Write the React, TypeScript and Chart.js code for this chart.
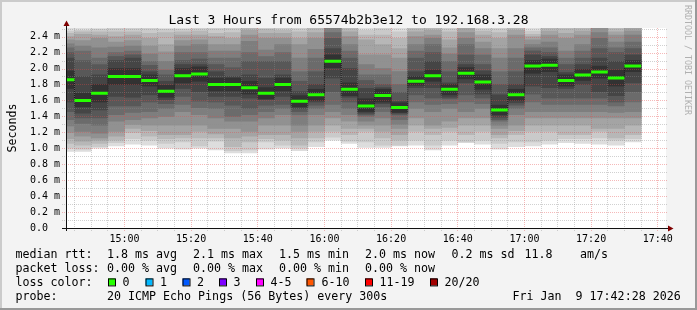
import React, { useEffect, useRef } from 'react';
import { Chart, registerables } from 'chart.js';

Chart.register(...registerables);

const W = 697;
const H = 310;
const MONO = '"DejaVu Sans Mono", monospace';

// ---------- data ----------
const VIEW_START = '14:42:28';
const VIEW_END = '17:42:28';
const SLOT_MINUTES = 5;
const Y_MAX = 2.508; // ms

const SLOT_START = [
  '14:40', '14:45', '14:50', '14:55', '15:00', '15:05', '15:10', '15:15', '15:20', '15:25',
  '15:30', '15:35', '15:40', '15:45', '15:50', '15:55', '16:00', '16:05', '16:10', '16:15',
  '16:20', '16:25', '16:30', '16:35', '16:40', '16:45', '16:50', '16:55', '17:00', '17:05',
  '17:10', '17:15', '17:20', '17:25', '17:30',
];

// median RTT per 5 minute slot (ms)
const MEDIAN_RTT = [
  1.86, 1.60, 1.69, 1.90, 1.90, 1.85, 1.715, 1.91, 1.93, 1.80,
  1.80, 1.76, 1.69, 1.80, 1.59, 1.67, 2.09, 1.74, 1.53, 1.66,
  1.51, 1.84, 1.91, 1.74, 1.94, 1.83, 1.48, 1.67, 2.03, 2.04,
  1.85, 1.92, 1.955, 1.88, 2.03,
];

// 20 sorted ping RTTs per slot (ms) -> smoke
const SORTED_PINGS = [
  [0.96, 1.00, 1.06, 1.12, 1.20, 1.28, 1.36, 1.46, 1.58, 1.75, 1.97, 2.13, 2.20, 2.26, 2.31, 2.36, 2.40, 2.44, 2.47, 2.60],
  [0.96, 0.99, 1.04, 1.09, 1.15, 1.21, 1.31, 1.38, 1.44, 1.52, 1.69, 1.90, 2.10, 2.22, 2.28, 2.35, 2.43, 2.46, 2.48, 2.60],
  [1.00, 1.02, 1.06, 1.10, 1.13, 1.19, 1.29, 1.38, 1.48, 1.58, 1.80, 1.92, 2.05, 2.13, 2.26, 2.38, 2.42, 2.46, 2.49, 2.60],
  [1.03, 1.07, 1.10, 1.15, 1.21, 1.34, 1.42, 1.53, 1.65, 1.80, 2.00, 2.10, 2.15, 2.20, 2.27, 2.33, 2.40, 2.46, 2.50, 2.60],
  [1.05, 1.12, 1.20, 1.25, 1.30, 1.36, 1.45, 1.53, 1.64, 1.80, 2.00, 2.13, 2.17, 2.22, 2.28, 2.35, 2.42, 2.46, 2.50, 2.60],
  [1.04, 1.10, 1.15, 1.22, 1.29, 1.38, 1.46, 1.58, 1.67, 1.78, 1.92, 1.96, 2.04, 2.09, 2.18, 2.28, 2.38, 2.44, 2.50, 2.60],
  [1.00, 1.06, 1.12, 1.17, 1.29, 1.40, 1.50, 1.56, 1.61, 1.64, 1.79, 1.84, 1.92, 1.98, 2.09, 2.21, 2.30, 2.45, 2.49, 2.56],
  [0.99, 1.08, 1.13, 1.17, 1.29, 1.46, 1.55, 1.65, 1.75, 1.82, 2.00, 2.05, 2.10, 2.20, 2.28, 2.35, 2.42, 2.46, 2.49, 2.60],
  [1.00, 1.03, 1.13, 1.21, 1.29, 1.42, 1.51, 1.59, 1.71, 1.84, 2.02, 2.05, 2.12, 2.20, 2.30, 2.36, 2.42, 2.47, 2.50, 2.60],
  [0.98, 1.09, 1.13, 1.18, 1.25, 1.38, 1.50, 1.58, 1.65, 1.72, 1.88, 1.96, 2.05, 2.13, 2.22, 2.30, 2.40, 2.44, 2.50, 2.55],
  [0.94, 0.97, 1.02, 1.13, 1.25, 1.34, 1.40, 1.54, 1.65, 1.72, 1.88, 1.90, 2.01, 2.13, 2.22, 2.30, 2.38, 2.45, 2.55, 2.70],
  [0.94, 0.98, 1.08, 1.15, 1.21, 1.34, 1.42, 1.50, 1.63, 1.68, 1.84, 1.92, 2.09, 2.20, 2.34, 2.42, 2.48, 2.52, 2.60, 2.70],
  [0.99, 1.08, 1.12, 1.17, 1.29, 1.38, 1.46, 1.54, 1.61, 1.62, 1.76, 1.88, 2.09, 2.15, 2.23, 2.38, 2.44, 2.49, 2.53, 2.65],
  [1.00, 1.04, 1.10, 1.17, 1.29, 1.42, 1.50, 1.55, 1.65, 1.72, 1.88, 1.92, 2.09, 2.20, 2.30, 2.38, 2.44, 2.48, 2.52, 2.65],
  [0.97, 1.00, 1.04, 1.13, 1.21, 1.29, 1.42, 1.46, 1.50, 1.52, 1.66, 1.71, 1.84, 1.96, 2.13, 2.30, 2.38, 2.46, 2.50, 2.56],
  [1.02, 1.08, 1.13, 1.21, 1.29, 1.42, 1.50, 1.54, 1.58, 1.60, 1.74, 1.80, 1.96, 2.13, 2.24, 2.38, 2.45, 2.52, 2.60, 2.70],
  [1.10, 1.14, 1.21, 1.29, 1.38, 1.46, 1.55, 1.71, 1.88, 2.01, 2.17, 2.25, 2.38, 2.45, 2.55, 2.60, 2.65, 2.70, 2.75, 2.80],
  [1.06, 1.09, 1.17, 1.25, 1.34, 1.42, 1.50, 1.58, 1.64, 1.66, 1.82, 2.00, 2.13, 2.22, 2.30, 2.40, 2.46, 2.52, 2.60, 2.70],
  [1.01, 1.08, 1.21, 1.25, 1.29, 1.34, 1.40, 1.42, 1.44, 1.46, 1.62, 1.75, 1.85, 1.92, 2.05, 2.17, 2.36, 2.42, 2.48, 2.55],
  [1.01, 1.04, 1.13, 1.21, 1.29, 1.38, 1.46, 1.52, 1.56, 1.58, 1.74, 1.76, 1.80, 1.92, 2.00, 2.17, 2.30, 2.42, 2.50, 2.53],
  [1.03, 1.04, 1.10, 1.17, 1.25, 1.30, 1.36, 1.42, 1.44, 1.45, 1.57, 1.59, 1.70, 1.80, 1.96, 2.13, 2.25, 2.38, 2.46, 2.55],
  [1.04, 1.10, 1.21, 1.29, 1.38, 1.50, 1.58, 1.67, 1.76, 1.79, 1.90, 1.96, 2.13, 2.22, 2.30, 2.40, 2.46, 2.50, 2.56, 2.65],
  [0.98, 1.04, 1.17, 1.25, 1.29, 1.46, 1.55, 1.63, 1.76, 1.84, 1.98, 2.09, 2.20, 2.30, 2.38, 2.42, 2.48, 2.55, 2.62, 2.70],
  [1.04, 1.10, 1.21, 1.26, 1.34, 1.50, 1.56, 1.62, 1.64, 1.67, 1.80, 1.82, 1.96, 2.09, 2.18, 2.26, 2.36, 2.46, 2.50, 2.55],
  [1.07, 1.08, 1.17, 1.29, 1.38, 1.46, 1.58, 1.67, 1.82, 1.87, 2.01, 2.05, 2.17, 2.30, 2.38, 2.45, 2.52, 2.60, 2.70, 2.80],
  [1.05, 1.10, 1.21, 1.29, 1.38, 1.50, 1.56, 1.63, 1.68, 1.74, 1.92, 1.97, 2.05, 2.17, 2.25, 2.33, 2.42, 2.47, 2.50, 2.56],
  [0.99, 1.06, 1.13, 1.17, 1.25, 1.29, 1.34, 1.36, 1.39, 1.42, 1.54, 1.67, 1.80, 1.96, 2.13, 2.25, 2.38, 2.45, 2.50, 2.58],
  [1.02, 1.08, 1.17, 1.22, 1.29, 1.42, 1.50, 1.54, 1.57, 1.60, 1.74, 1.80, 1.96, 2.13, 2.25, 2.42, 2.48, 2.55, 2.62, 2.70],
  [1.03, 1.08, 1.21, 1.29, 1.38, 1.46, 1.58, 1.68, 1.78, 1.94, 2.10, 2.17, 2.22, 2.26, 2.30, 2.36, 2.40, 2.43, 2.47, 2.52],
  [1.05, 1.10, 1.21, 1.29, 1.38, 1.46, 1.55, 1.63, 1.76, 1.96, 2.12, 2.15, 2.20, 2.26, 2.33, 2.42, 2.47, 2.52, 2.58, 2.65],
  [1.07, 1.12, 1.17, 1.29, 1.38, 1.46, 1.55, 1.63, 1.75, 1.78, 1.92, 1.95, 2.05, 2.13, 2.22, 2.38, 2.44, 2.50, 2.56, 2.62],
  [1.06, 1.12, 1.17, 1.29, 1.38, 1.46, 1.55, 1.63, 1.80, 1.85, 1.99, 2.05, 2.13, 2.22, 2.30, 2.42, 2.47, 2.53, 2.60, 2.68],
  [1.05, 1.13, 1.21, 1.25, 1.38, 1.46, 1.55, 1.63, 1.71, 1.88, 2.03, 2.13, 2.25, 2.38, 2.45, 2.52, 2.58, 2.64, 2.70, 2.80],
  [1.04, 1.10, 1.13, 1.25, 1.38, 1.45, 1.53, 1.58, 1.66, 1.78, 1.98, 2.09, 2.20, 2.26, 2.33, 2.42, 2.46, 2.50, 2.55, 2.60],
  [1.08, 1.12, 1.17, 1.29, 1.38, 1.46, 1.58, 1.71, 1.82, 1.96, 2.10, 2.17, 2.25, 2.33, 2.42, 2.47, 2.52, 2.58, 2.64, 2.70],
];

const X_TICK_LABELS = ['15:00', '15:20', '15:40', '16:00', '16:20', '16:40', '17:00', '17:20', '17:40'];
const Y_TICKS = [0, 0.2, 0.4, 0.6, 0.8, 1.0, 1.2, 1.4, 1.6, 1.8, 2.0, 2.2, 2.4];

const TITLE = 'Last 3 Hours from 65574b2b3e12 to 192.168.3.28';
const Y_TITLE = 'Seconds';
const WATERMARK = 'RRDTOOL / TOBI OETIKER';
const RTT_ITEMS = ['1.8 ms avg', '2.1 ms max', '1.5 ms min', '2.0 ms now', '0.2 ms sd', '11.8', 'am/s'];
const LOSS_ITEMS = ['0.00 % avg', '0.00 % max', '0.00 % min', '0.00 % now'];
const LOSS_COLOR_LABELS = ['0', '1', '2', '3', '4-5', '6-10', '11-19', '20/20'];
const LOSS_COLORS = ['#26ff00', '#00b8ff', '#0059ff', '#7e00ff', '#ff00ff', '#ff5500', '#ff0000', '#a10000'];
const PROBE_TEXT = '20 ICMP Echo Pings (56 Bytes) every 300s';
const DATE_TEXT = 'Fri Jan  9 17:42:28 2026';

// ---------- styles ----------
const SMOKE_COLORS = ['#dddddd', '#cacaca', '#b7b7b7', '#a4a4a4', '#919191', '#7e7e7e', '#6b6b6b', '#585858', '#454545', '#323232'];
const RTT_X = [107, 193, 279, 365, 451.5, 524.5, 580];
const LOSS_X = [107, 193, 279, 365];
const SQUARE_X = [108, 145.5, 182.5, 219, 256, 306.5, 365, 430];
const SQUARE_LABEL_X = [122.5, 160, 197, 233.5, 270.5, 321.5, 379.5, 444.5];
const LEGEND_Y = [257.5, 271.7, 285.9, 300];

const toMin = (s: string) => {
  const p = s.split(':').map(Number);
  return p[0] * 60 + p[1] + (p[2] || 0) / 60;
};

const rrdPlugin = {
  id: 'rrd',
  beforeDraw(chart: any) {
    const { ctx, chartArea: a } = chart;
    ctx.save();
    ctx.fillStyle = '#f3f3f3';
    ctx.fillRect(0, 0, W, H);
    ctx.fillStyle = '#cbcbcb';
    ctx.fillRect(0, 0, W, 2);
    ctx.fillRect(0, 0, 2, H);
    ctx.fillStyle = '#999999';
    ctx.fillRect(0, H - 2, W, 2);
    ctx.fillRect(W - 2, 0, 2, H);
    ctx.fillStyle = '#ffffff';
    ctx.fillRect(a.left, a.top, a.right - a.left, a.bottom - a.top);
    ctx.restore();
  },
  afterDatasetDraw(chart: any, args: any) {
    if (args.index !== SMOKE_COLORS.length - 1) return;
    const { ctx, chartArea: a } = chart;
    const xs = chart.scales.x;
    const ys = chart.scales.y;
    ctx.save();
    ctx.lineWidth = 1;
    ctx.setLineDash([1, 1]);
    const minorC = 'rgba(140,140,140,0.4)';
    const majorC = 'rgba(230,70,70,0.38)';
    // horizontal
    for (let i = 1; i * 0.1 <= Y_MAX + 1e-9; i++) {
      const v = i * 0.1;
      const y = Math.round(ys.getPixelForValue(v)) + 0.5;
      ctx.strokeStyle = i % 2 === 0 ? majorC : minorC;
      ctx.beginPath();
      ctx.moveTo(a.left - 4, y);
      ctx.lineTo(a.right + 2, y);
      ctx.stroke();
    }
    // vertical
    const first = Math.ceil(xs.min / SLOT_MINUTES) * SLOT_MINUTES;
    for (let t = first; t <= xs.max; t += SLOT_MINUTES) {
      const x = Math.floor(xs.getPixelForValue(t)) + 0.5;
      ctx.strokeStyle = t % 20 === 0 ? majorC : minorC;
      ctx.beginPath();
      ctx.moveTo(x, a.top);
      ctx.lineTo(x, a.bottom + 3);
      ctx.stroke();
    }
    ctx.restore();
  },
  afterDatasetsDraw(chart: any) {
    const { ctx, chartArea: a } = chart;
    ctx.save();
    ctx.strokeStyle = '#111111';
    ctx.lineWidth = 1;
    const yb = a.bottom + 0.5;
    const xl = a.left + 0.5;
    ctx.beginPath();
    ctx.moveTo(a.left - 4, yb);
    ctx.lineTo(a.right + 2, yb);
    ctx.moveTo(xl, a.bottom + 3);
    ctx.lineTo(xl, a.top - 2);
    ctx.stroke();
    ctx.fillStyle = '#7f0000';
    ctx.beginPath();
    ctx.moveTo(xl - 3, a.top - 2);
    ctx.lineTo(xl + 3, a.top - 2);
    ctx.lineTo(xl, a.top - 7.5);
    ctx.closePath();
    ctx.fill();
    ctx.beginPath();
    ctx.moveTo(a.right + 2, yb - 3);
    ctx.lineTo(a.right + 2, yb + 3);
    ctx.lineTo(a.right + 7.5, yb);
    ctx.closePath();
    ctx.fill();
    ctx.restore();
  },
  afterDraw(chart: any) {
    const { ctx, chartArea: a } = chart;
    ctx.save();
    ctx.fillStyle = '#000';
    ctx.textBaseline = 'alphabetic';
    // title
    ctx.font = `13px ${MONO}`;
    ctx.textAlign = 'center';
    ctx.fillText(TITLE, W / 2, 24);
    // y title
    ctx.font = `11.65px ${MONO}`;
    ctx.save();
    ctx.translate(15.5, (a.top + a.bottom) / 2);
    ctx.rotate(-Math.PI / 2);
    ctx.fillText(Y_TITLE, 0, 0);
    ctx.restore();
    // watermark
    ctx.save();
    ctx.font = `8.3px ${MONO}`;
    ctx.fillStyle = '#b0b0b0';
    ctx.textAlign = 'left';
    ctx.translate(685, 5);
    ctx.rotate(Math.PI / 2);
    ctx.fillText(WATERMARK, 0, 0);
    ctx.restore();
    // legend
    ctx.textAlign = 'left';
    ctx.font = `11.65px ${MONO}`;
    ctx.fillStyle = '#000';
    ctx.fillText('median rtt:', 15.5, LEGEND_Y[0]);
    RTT_ITEMS.forEach((t, i) => ctx.fillText(t, RTT_X[i], LEGEND_Y[0]));
    ctx.fillText('packet loss:', 15.5, LEGEND_Y[1]);
    LOSS_ITEMS.forEach((t, i) => ctx.fillText(t, LOSS_X[i], LEGEND_Y[1]));
    ctx.fillText('loss color:', 15.5, LEGEND_Y[2]);
    LOSS_COLOR_LABELS.forEach((t, i) => {
      ctx.fillStyle = LOSS_COLORS[i];
      ctx.fillRect(SQUARE_X[i], LEGEND_Y[2] - 7.5, 7, 7);
      ctx.strokeStyle = '#000';
      ctx.lineWidth = 1;
      ctx.strokeRect(SQUARE_X[i] + 0.5, LEGEND_Y[2] - 7, 7, 7);
      ctx.fillStyle = '#000';
      ctx.fillText(t, SQUARE_LABEL_X[i], LEGEND_Y[2]);
    });
    ctx.fillText('probe:', 15.5, LEGEND_Y[3]);
    ctx.fillText(PROBE_TEXT, 107, LEGEND_Y[3]);
    ctx.fillText(DATE_TEXT, 512.5, LEGEND_Y[3]);
    ctx.restore();
  },
};

export default function App() {
  const ref = useRef<HTMLCanvasElement>(null);

  useEffect(() => {
    if (!ref.current) return;
    const xMin = toMin(VIEW_START);
    const xMax = toMin(VIEW_END);

    const smoke = SMOKE_COLORS.map((color, k) => ({
      type: 'bar' as const,
      label: `smoke${k + 1}`,
      data: SLOT_START.map((s, i) => ({
        x: toMin(s) + SLOT_MINUTES / 2,
        y: [SORTED_PINGS[i][k], SORTED_PINGS[i][SORTED_PINGS[i].length - 1 - k]],
      })),
      backgroundColor: color,
      borderWidth: 0,
      grouped: false,
      barPercentage: 1,
      categoryPercentage: 1,
      order: 20 - k,
      clip: 0,
    }));

    const stepPts: any[] = [];
    const medPts: any[] = [];
    SLOT_START.forEach((s, i) => {
      const t0 = toMin(s);
      const t1 = t0 + SLOT_MINUTES;
      stepPts.push({ x: t0, y: MEDIAN_RTT[i] }, { x: t1, y: MEDIAN_RTT[i] });
      medPts.push({ x: t0, y: MEDIAN_RTT[i] }, { x: t1, y: MEDIAN_RTT[i] }, { x: t1, y: null });
    });

    const chart = new Chart(ref.current, {
      type: 'bar',
      data: {
        datasets: [
          ...smoke,
          {
            type: 'line' as const,
            label: 'median-step',
            data: stepPts,
            borderColor: '#1a1a1a',
            borderWidth: 1,
            borderDash: [1, 1],
            pointRadius: 0,
            tension: 0,
            order: 1,
            clip: 0,
          },
          {
            type: 'line' as const,
            label: 'median',
            data: medPts,
            borderColor: LOSS_COLORS[0],
            borderWidth: 3,
            borderCapStyle: 'butt',
            pointRadius: 0,
            spanGaps: false,
            tension: 0,
            order: 0,
            clip: 0,
          },
        ] as any,
      },
      options: {
        responsive: false,
        animation: false,
        devicePixelRatio: 1,
        layout: { padding: { left: 0, right: 31, top: 28, bottom: 62 } },
        plugins: { legend: { display: false }, tooltip: { enabled: false }, title: { display: false } },
        events: [],
        scales: {
          x: {
            type: 'linear',
            min: xMin,
            max: xMax,
            offset: false,
            grid: { display: false, drawTicks: false, offset: false },
            border: { display: false },
            afterBuildTicks: (scale: any) => {
              scale.ticks = X_TICK_LABELS.map((l) => ({ value: toMin(l) }));
            },
            afterFit: (scale: any) => {
              scale.height = 20;
            },
            ticks: {
              autoSkip: false,
              maxRotation: 0,
              minRotation: 0,
              padding: 5,
              color: '#000',
              font: { family: MONO, size: 10 },
              callback: (v: any) => {
                const idx = X_TICK_LABELS.findIndex((l) => Math.abs(toMin(l) - v) < 1e-6);
                return idx >= 0 ? X_TICK_LABELS[idx] : '';
              },
            },
          },
          y: {
            type: 'linear',
            min: 0,
            max: Y_MAX,
            grid: { display: false, drawTicks: false },
            border: { display: false },
            afterBuildTicks: (scale: any) => {
              scale.ticks = Y_TICKS.map((v) => ({ value: v }));
            },
            afterFit: (scale: any) => {
              scale.width = 66;
            },
            ticks: {
              padding: 6,
              color: '#000',
              font: { family: MONO, size: 10 },
              callback: (v: any) => (Math.abs(v) < 1e-9 ? '0.0  ' : `${Number(v).toFixed(1)} m`),
            },
          },
        },
      } as any,
      plugins: [rrdPlugin],
    });
    return () => chart.destroy();
  }, []);

  return (
    <div style={{ position: 'absolute', left: 0, top: 0, width: W, height: H }}>
      <canvas ref={ref} width={W} height={H} style={{ width: W, height: H, display: 'block' }} />
    </div>
  );
}
